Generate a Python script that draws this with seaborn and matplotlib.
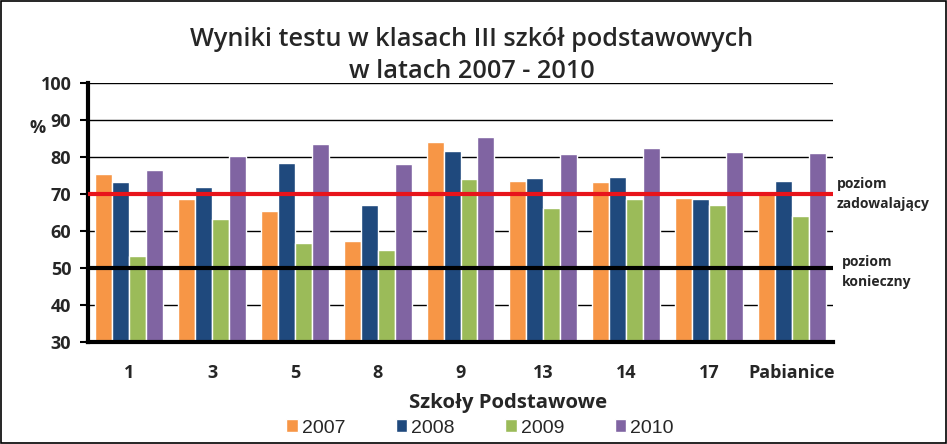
import matplotlib
matplotlib.use("Agg")
import matplotlib.pyplot as plt
import seaborn as sns
import pandas as pd

schools = ["1", "3", "5", "8", "9", "13", "14", "17", "Pabianice"]
years = ["2007", "2008", "2009", "2010"]
v2007 = [75.4, 68.6, 65.4, 57.3, 84.1, 73.5, 73.2, 68.9, 70.3]
v2008 = [73.2, 71.9, 78.4, 67.0, 81.6, 74.3, 74.6, 68.6, 73.5]
v2009 = [53.2, 63.2, 56.8, 54.9, 74.1, 66.2, 68.6, 67.0, 64.1]
v2010 = [76.5, 80.3, 83.5, 78.1, 85.4, 80.8, 82.4, 81.4, 81.1]
colors = ["#F79646", "#1F497D", "#9BBB59", "#8064A2"]
level_satisf = 70
level_needed = 50

rows = []
for y, vals in zip(years, [v2007, v2008, v2009, v2010]):
    for s, v in zip(schools, vals):
        rows.append({"school": s, "year": y, "value": v})
df = pd.DataFrame(rows)

sns.set_theme(style="white")
plt.rcParams["font.family"] = ["Open Sans", "DejaVu Sans"]

fig = plt.figure(figsize=(9.47, 4.44), dpi=100)
ax = fig.add_axes([88 / 947, (444 - 342) / 444, (833 - 88) / 947, (342 - 83) / 444])

sns.barplot(data=df, x="school", y="value", hue="year", order=schools,
            hue_order=years, palette=colors, width=0.82, saturation=1,
            ax=ax, zorder=2, legend=True)

ax.set_ylim(30, 100)
ax.set_yticks(range(30, 101, 10))
ax.set_xlim(-0.5, len(schools) - 0.5)
ax.yaxis.grid(True, color="black", linewidth=1.0, zorder=0)
ax.set_axisbelow(True)
ax.axhline(level_satisf, color="#E8141B", linewidth=3, zorder=3)
ax.axhline(level_needed, color="black", linewidth=3, zorder=3)

for side in ["top", "right"]:
    ax.spines[side].set_visible(False)
ax.spines["left"].set_linewidth(3)
ax.spines["bottom"].set_linewidth(3)
ax.spines["left"].set_color("black")
ax.spines["bottom"].set_color("black")
ax.tick_params(axis="y", which="both", left=True, length=6, width=1.5,
               color="black", labelsize=13, pad=6)
ax.tick_params(axis="x", bottom=False, labelsize=13, pad=10)
for lab in ax.get_xticklabels() + ax.get_yticklabels():
    lab.set_fontweight("bold")

ax.set_ylabel("")
ax.set_xlabel("Szkoły Podstawowe", fontsize=14.7, fontweight="bold")
ax.xaxis.set_label_coords((508 - 88) / (833 - 88), -(403 - 342) / (342 - 83))
ax.xaxis.label.set_va("center")

fig.text(30 / 947, 1 - 128 / 444, "%", fontsize=13, fontweight="bold",
         ha="left", va="center")

fig.text(472 / 947, 1 - 40 / 444, "Wyniki testu w klasach III szkół podstawowych",
         ha="center", va="center", fontsize=18.2, fontweight="semibold")
fig.text(472 / 947, 1 - 71 / 444, "w latach 2007 - 2010", ha="center",
         va="center", fontsize=18.2, fontweight="semibold")

fig.text(837 / 947, 1 - 194 / 444, "poziom\nzadowalający", ha="left",
         va="center", fontsize=10, fontweight="bold", linespacing=1.6)
fig.text(842 / 947, 1 - 272 / 444, "poziom\nkonieczny", ha="left",
         va="center", fontsize=10, fontweight="bold", linespacing=1.5)

handles, labels = ax.get_legend_handles_labels()
ax.legend_.remove()
fig.legend(handles, labels, loc="center", bbox_to_anchor=(480 / 947, 1 - 428 / 444),
           ncol=4, frameon=False, prop={"family": "Liberation Sans", "size": 14},
           handlelength=0.6, handleheight=0.6, handletextpad=0.2,
           columnspacing=2.6, borderaxespad=0)

fig.patches.append(plt.Rectangle((0.0015, 0.002), 0.997, 0.996, transform=fig.transFigure,
                                 fill=False, edgecolor="black", linewidth=1.2))

fig.savefig("out.png", dpi=100)
